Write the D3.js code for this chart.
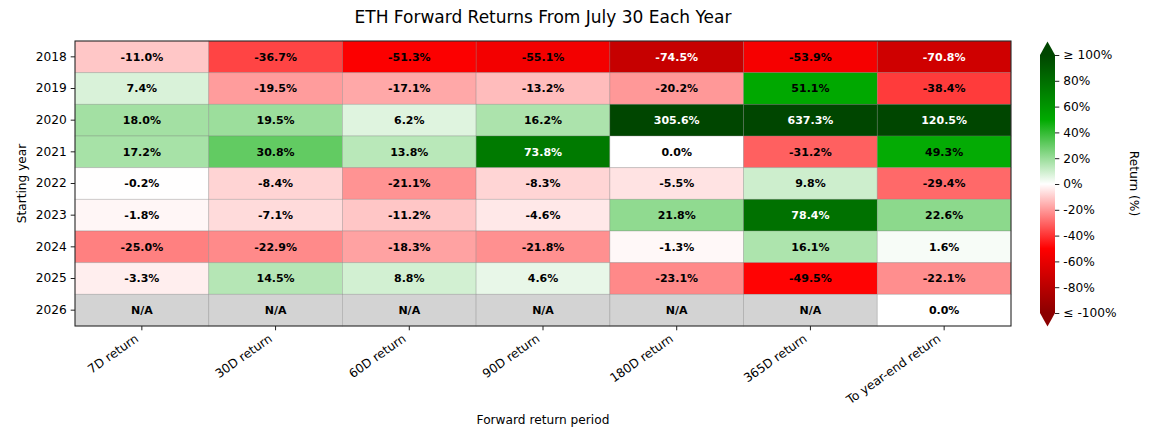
<!DOCTYPE html>
<html>
<head>
<meta charset="utf-8">
<script src="https://cdn.jsdelivr.net/npm/d3@7"></script>
<style>
  body { margin: 0; background: #fff; }
  text { font-family: "DejaVu Sans", sans-serif; }
</style>
</head>
<body>
<script>
// ETH forward returns heatmap

var w = 1153;
var h = 432;

var years = ["2018", "2019", "2020", "2021", "2022", "2023", "2024", "2025", "2026"];
var periods = ["7D return", "30D return", "60D return", "90D return", "180D return", "365D return", "To year-end return"];

// one row per starting year, null = N/A
var r2018 = [-11.0, -36.7, -51.3, -55.1, -74.5, -53.9, -70.8];
var r2019 = [7.4, -19.5, -17.1, -13.2, -20.2, 51.1, -38.4];
var r2020 = [18.0, 19.5, 6.2, 16.2, 305.6, 637.3, 120.5];
var r2021 = [17.2, 30.8, 13.8, 73.8, 0.0, -31.2, 49.3];
var r2022 = [-0.2, -8.4, -21.1, -8.3, -5.5, 9.8, -29.4];
var r2023 = [-1.8, -7.1, -11.2, -4.6, 21.8, 78.4, 22.6];
var r2024 = [-25.0, -22.9, -18.3, -21.8, -1.3, 16.1, 1.6];
var r2025 = [-3.3, 14.5, 8.8, 4.6, -23.1, -49.5, -22.1];
var r2026 = [null, null, null, null, null, null, 0.0];

var rows = [r2018, r2019, r2020, r2021, r2022, r2023, r2024, r2025, r2026];

var cbTicks = [-100, -80, -60, -40, -20, 0, 20, 40, 60, 80, 100];

var margin = { left: 75, top: 41, right: 1011, bottom: 326 };

// flatten into cells
var cells = [];
rows.forEach(function(r, i) {
	r.forEach(function(v, j) {
		cells.push({ year: years[i], period: periods[j], v: v });
	});
});

var x = d3.scaleBand().domain(periods).range([margin.left, margin.right]);
var y = d3.scaleBand().domain(years).range([margin.top, margin.bottom]);

var color = d3.scaleLinear()
	.domain([-100, -50, 0, 50, 100])
	.range(["#8b0000", "#ff0000", "#ffffff", "#00aa00", "#004600"])
	.clamp(true);

var svg = d3.select("body")
	.append("svg")
	.attr("width", w)
	.attr("height", h);

// cells
svg.selectAll("rect.cell")
	.data(cells)
	.enter()
	.append("rect")
	.attr("class", "cell")
	.attr("x", function(d) { return x(d.period); })
	.attr("y", function(d) { return y(d.year); })
	.attr("width", x.bandwidth())
	.attr("height", y.bandwidth())
	.attr("fill", function(d) { return d.v === null ? "#d3d3d3" : color(d.v); })
	.attr("stroke", "rgba(120,120,120,0.35)")
	.attr("stroke-width", 0.8);

svg.selectAll("text.val")
	.data(cells)
	.enter()
	.append("text")
	.attr("class", "val")
	.text(function(d) { return d.v === null ? "N/A" : d.v.toFixed(1) + "%"; })
	.attr("x", function(d) { return x(d.period) + x.bandwidth() / 2; })
	.attr("y", function(d) { return y(d.year) + y.bandwidth() / 2; })
	.attr("dy", "0.36em")
	.attr("text-anchor", "middle")
	.attr("font-size", "11px")
	.attr("font-weight", "bold")
	.attr("fill", function(d) {
		return d.v !== null && Math.abs(d.v) >= 60 ? "#ffffff" : "#000000";
	});

// frame
svg.append("rect")
	.attr("x", margin.left)
	.attr("y", margin.top)
	.attr("width", margin.right - margin.left)
	.attr("height", margin.bottom - margin.top)
	.attr("fill", "none")
	.attr("stroke", "#222")
	.attr("stroke-width", 1);

// y axis
var yAxis = svg.append("g")
	.attr("transform", "translate(" + margin.left + ",0)")
	.call(d3.axisLeft(y).tickSize(4.3).tickPadding(4));
yAxis.select(".domain").remove();
yAxis.selectAll("text").attr("font-size", "12.2px").attr("fill", "#000").attr("font-family", "DejaVu Sans");
yAxis.selectAll("line").attr("stroke", "#222");

// x axis, labels rotated 35 deg and right-aligned on the tick
var xAxis = svg.append("g")
	.attr("transform", "translate(0," + margin.bottom + ")")
	.call(d3.axisBottom(x).tickSize(4.3).tickPadding(4));
xAxis.select(".domain").remove();
xAxis.selectAll("line").attr("stroke", "#222");
xAxis.selectAll("text")
	.attr("font-size", "12.2px")
	.attr("fill", "#000")
	.attr("font-family", "DejaVu Sans")
	.attr("text-anchor", "end")
	.attr("y", 0)
	.attr("dy", "0.35em")
	.attr("transform", "translate(-5,11) rotate(-35)");

// titles
svg.append("text")
	.text("ETH Forward Returns From July 30 Each Year")
	.attr("x", (margin.left + margin.right) / 2)
	.attr("y", 23)
	.attr("text-anchor", "middle")
	.attr("font-size", "17px");

svg.append("text")
	.text("Forward return period")
	.attr("x", (margin.left + margin.right) / 2)
	.attr("y", 424)
	.attr("text-anchor", "middle")
	.attr("font-size", "12.2px");

svg.append("text")
	.text("Starting year")
	.attr("transform", "translate(26," + (margin.top + margin.bottom) / 2 + ") rotate(-90)")
	.attr("text-anchor", "middle")
	.attr("font-size", "12.2px");

// colorbar
var cbX = 1040, cbW = 15;
var cy = d3.scaleLinear().domain([-100, 100]).range([313, 55]);
var ext = 13.5;

var grad = svg.append("defs").append("linearGradient")
	.attr("id", "cbgrad")
	.attr("x1", 0).attr("y1", 1).attr("x2", 0).attr("y2", 0);
grad.selectAll("stop")
	.data(d3.range(0, 1.0001, 0.05))
	.enter()
	.append("stop")
	.attr("offset", function(d) { return d; })
	.attr("stop-color", function(d) { return color(-100 + d * 200); });

svg.append("rect")
	.attr("x", cbX)
	.attr("y", cy(100))
	.attr("width", cbW)
	.attr("height", cy(-100) - cy(100))
	.attr("fill", "url(#cbgrad)");

svg.append("path")
	.attr("d", "M" + cbX + "," + cy(100) + "L" + (cbX + cbW / 2) + "," + (cy(100) - ext) + "L" + (cbX + cbW) + "," + cy(100) + "Z")
	.attr("fill", color(100));
svg.append("path")
	.attr("d", "M" + cbX + "," + cy(-100) + "L" + (cbX + cbW / 2) + "," + (cy(-100) + ext) + "L" + (cbX + cbW) + "," + cy(-100) + "Z")
	.attr("fill", color(-100));

var cbAxis = svg.append("g")
	.attr("transform", "translate(" + (cbX + cbW) + ",0)")
	.call(d3.axisRight(cy).tickValues(cbTicks).tickSize(4.3).tickPadding(4)
		.tickFormat(function(d) {
			if (d === 100) return "\u2265 100%";
			if (d === -100) return "\u2264 -100%";
			return d + "%";
		}));
cbAxis.select(".domain").remove();
cbAxis.selectAll("line").attr("stroke", "#222");
cbAxis.selectAll("text").attr("font-size", "12.2px").attr("fill", "#000").attr("font-family", "DejaVu Sans");

svg.append("text")
	.text("Return (%)")
	.attr("transform", "translate(1130," + (margin.top + margin.bottom) / 2 + ") rotate(90)")
	.attr("text-anchor", "middle")
	.attr("font-size", "12.2px");
</script>
</body>
</html>
